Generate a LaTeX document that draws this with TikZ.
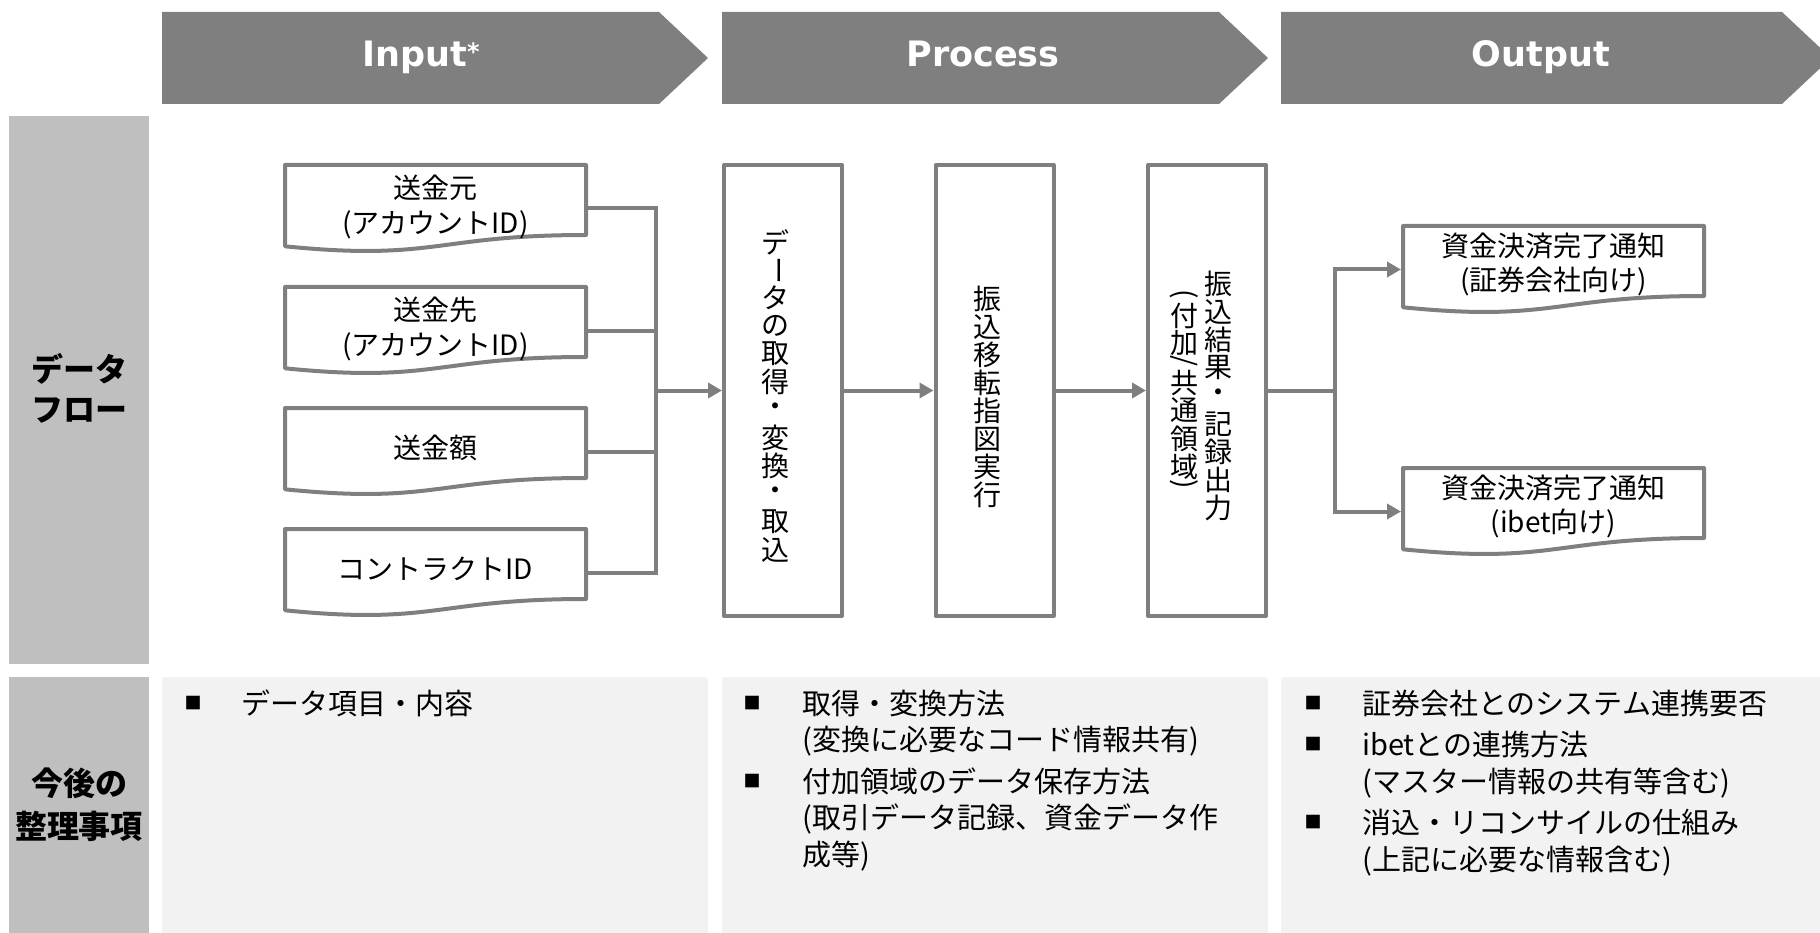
\documentclass[tikz,border=0pt]{standalone}
\usepackage{fontspec}
\usepackage{graphicx}
\setmainfont{Noto Sans CJK JP}
\newfontfamily\headfont{DejaVu Sans}
\usetikzlibrary{arrows.meta,calc}
\definecolor{ln}{RGB}{127,127,127}
\definecolor{labfill}{RGB}{191,191,191}
\definecolor{panfill}{RGB}{242,242,242}
\newcommand\vch[1]{\hbox to 28pt{\hss\vbox to 28pt{\vss\hbox{#1}\vss}\hss}}
\newcommand\vbarch{\vch{\rotatebox[origin=c]{-90}{ー}}}
\newcommand\vrot[1]{\hbox to 28pt{\hss\vbox to 11pt{\vss\hbox{\rotatebox[origin=c]{-90}{#1}}\vss}\hss}}
\newcommand\docoutline[1]{%
  \draw[docline] (#1.north west) -- (#1.north east) -- ($(#1.north east)+(0,70)$)
    .. controls ($(#1.north)+(0,70)$) and ($(#1.north)+(0,96.4)$) .. ($(#1.north west)+(0,81.3)$) -- cycle;}
\begin{document}
\begin{tikzpicture}[x=1pt,y=-1pt,
  docline/.style={draw=ln,line width=4pt,line join=round},
  conn/.style={draw=ln,line width=4pt},
  arr/.style={conn,-{Triangle[length=14pt,width=15pt]}},
  docbox/.style={minimum width=301pt,minimum height=87pt,inner sep=0pt,outer sep=0pt},
  doctext/.style={align=center,font=\fontsize{28}{35}\selectfont,inner sep=0pt},
  pbox/.style={draw=ln,line width=4pt,line join=round,minimum width=118pt,minimum height=451pt,inner sep=0pt},
  vtxt/.style={inner sep=0pt,font=\fontsize{28}{28}\selectfont},
  head/.style={text=white,font=\headfont\bfseries\fontsize{35}{40}\selectfont,anchor=base,inner sep=0pt},
  lab/.style={font=\bfseries\fontsize{32}{40}\selectfont,anchor=base,inner sep=0pt},
  itm/.style={font=\fontsize{29}{36}\selectfont,anchor=base west,inner sep=0pt},
  bul/.style={font=\fontsize{17}{17}\selectfont,inner sep=0pt},
]
\useasboundingbox (0,0) rectangle (1820,933);

% header chevrons
\fill[ln] (162,12) -- (659,12) -- (708,58) -- (659,104) -- (162,104) -- cycle;
\fill[ln] (722,12) -- (1219,12) -- (1268,58) -- (1219,104) -- (722,104) -- cycle;
\fill[ln] (1281,12) -- (1782,12) -- (1831,58) -- (1782,104) -- (1281,104) -- cycle;
\node[head] (hin) at (421,67) {Input\raisebox{6pt}{\fontsize{24}{24}\selectfont *}};
\node[head] (hpr) at (983,67) {Process};
\node[head] (hout) at (1541,67) {Output};

% left labels
\fill[labfill] (9,116) rectangle (149,664);
\fill[labfill] (9,677) rectangle (149,945);
\node[lab] (l1a) at (79,381) {データ};
\node[lab] (l1b) at (79,421) {フロー};
\node[lab] (l2a) at (79,795) {今後の};
\node[lab] (l2b) at (79,838) {整理事項};

% bottom panels
\fill[panfill,rounded corners=3pt] (162,677) rectangle (708,945);
\fill[panfill,rounded corners=3pt] (722,677) rectangle (1268,945);
\fill[panfill,rounded corners=3pt] (1281,677) rectangle (1830,945);

% input documents
\node[docbox] (in1) at (435.5,208.5) {};
\node[docbox] (in2) at (435.5,330.5) {};
\node[docbox] (in3) at (435.5,451.5) {};
\node[docbox] (in4) at (435.5,572.5) {};
\docoutline{in1}\docoutline{in2}\docoutline{in3}\docoutline{in4}
\node[doctext] (in1t) at ($(in1.center)+(0,-2)$) {送金元\\(アカウントID)};
\node[doctext] (in2t) at ($(in2.center)+(0,-2)$) {送金先\\(アカウントID)};
\node[doctext] (in3t) at ($(in3.center)+(0,-4)$) {送金額};
\node[doctext] (in4t) at ($(in4.center)+(0,-4)$) {コントラクトID};

% process boxes
\node[pbox] (p1) at (783,390.5) {};
\node[pbox] (p2) at (994.5,390.5) {};
\node[pbox] (p3) at (1207,390.5) {};
\node[vtxt] (p1t) at (775,396) {\vbox{\offinterlineskip\vch{デ}\vbarch\vch{タ}\vch{の}\vch{取}\vch{得}\vch{・}\vch{変}\vch{換}\vch{・}\vch{取}\vch{込}}};
\node[vtxt] (p2t) at (987,397) {\vbox{\offinterlineskip\vch{振}\vch{込}\vch{移}\vch{転}\vch{指}\vch{図}\vch{実}\vch{行}}};
\node[vtxt] (p3ta) at (1218,396) {\vbox{\offinterlineskip\vch{振}\vch{込}\vch{結}\vch{果}\vch{・}\vch{記}\vch{録}\vch{出}\vch{力}}};
\node[vtxt] (p3tb) at (1184,391) {\vbox{\offinterlineskip\vrot{(}\vch{付}\vch{加}\vrot{/}\vch{共}\vch{通}\vch{領}\vch{域}\vrot{)}}};

% output documents
\node[docbox] (o1) at (1553.5,269.5) {};
\node[docbox] (o2) at (1553.5,511.5) {};
\docoutline{o1}\docoutline{o2}
\node[doctext,font=\fontsize{28}{34}\selectfont] (o1t) at ($(o1.center)+(0,-5)$) {資金決済完了通知\\(証券会社向け)};
\node[doctext,font=\fontsize{28}{34}\selectfont] (o2t) at ($(o2.center)+(0,-5)$) {資金決済完了通知\\(ibet向け)};

% connectors
\coordinate (ibus) at (656,390.5);
\coordinate (obus) at (1335,390.5);
\draw[conn] (in1.east) -| (ibus);
\draw[conn] (in2.east) -| (ibus);
\draw[conn] (in3.east) -| (ibus);
\draw[conn] (in4.east) -| (ibus);
\draw[arr] (ibus) -- (p1.west);
\draw[arr] (p1.east) -- (p2.west);
\draw[arr] (p2.east) -- (p3.west);
\draw[conn] (p3.east) -- (obus);
\draw[arr] (obus) |- ([xshift=-2pt]o1.west);
\draw[arr] (obus) |- ([xshift=-2pt]o2.west);

% bottom texts
\node[bul] (b1) at (193,703) {■};
\node[itm] (t1) at (241,714) {データ項目・内容};

\node[bul] (b2) at (752,703) {■};
\node[itm] (t2a) at (802,714) {取得・変換方法};
\node[itm] (t2b) at (802,750.5) {(変換に必要なコード情報共有)};
\node[bul] (b3) at (752,781) {■};
\node[itm] (t3a) at (802,792) {付加領域のデータ保存方法};
\node[itm] (t3b) at (802,828.5) {(取引データ記録、資金データ作};
\node[itm] (t3c) at (802,865) {成等)};

\node[bul] (b4) at (1313,703) {■};
\node[itm] (t4a) at (1362,714) {証券会社とのシステム連携要否};
\node[bul] (b5) at (1313,744.5) {■};
\node[itm] (t5a) at (1362,755.5) {ibetとの連携方法};
\node[itm] (t5b) at (1362,792) {(マスター情報の共有等含む)};
\node[bul] (b6) at (1313,822.5) {■};
\node[itm] (t6a) at (1362,833.5) {消込・リコンサイルの仕組み};
\node[itm] (t6b) at (1362,870) {(上記に必要な情報含む)};
\end{tikzpicture}
\end{document}
